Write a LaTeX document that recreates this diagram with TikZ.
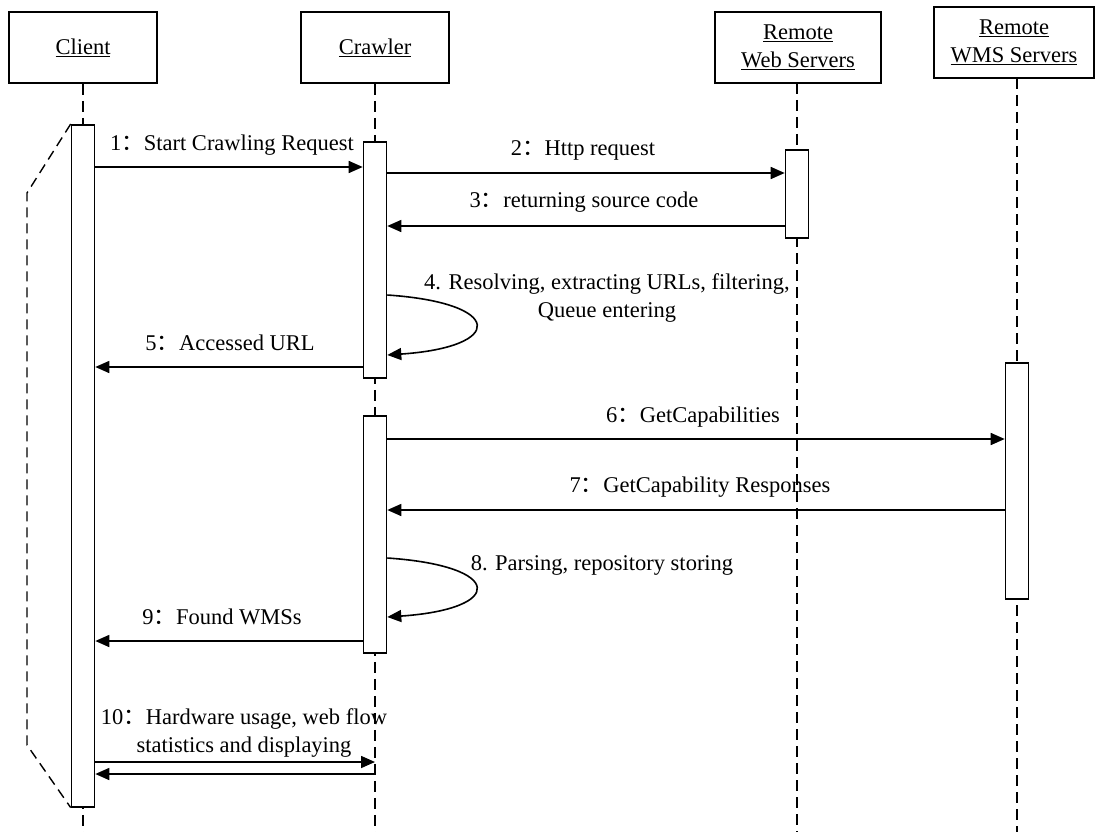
\documentclass[tikz,border=0pt]{standalone}
\usepackage{fontspec}
\setmainfont{Liberation Serif}
\newfontfamily\cjk{Noto Sans CJK SC}
\newcommand\fwcolon{{\cjk ：}}
\usetikzlibrary{arrows.meta}
\begin{document}
\begin{tikzpicture}[x=1pt,y=-1pt,
  every node/.style={font=\fontsize{22.5}{28}\selectfont},
  actor/.style={draw,line width=1.6pt,minimum height=71pt,inner sep=0pt,align=center},
  bar/.style={draw,line width=1.6pt,fill=white,minimum width=23pt,inner sep=0pt,anchor=north},
  lifeline/.style={line width=1.4pt,dash pattern=on 11pt off 6pt},
  msg/.style={line width=1.6pt,-{Triangle[length=14pt,width=12pt]}},
  lbl/.style={inner sep=0pt,align=center}]
\useasboundingbox (0,0) rectangle (1095,832);

% participants
\node[actor,minimum width=148pt] (client)  at (83,47.5)  {\underline{Client}};
\node[actor,minimum width=148pt] (crawler) at (375,47.5) {\underline{Crawler}};
\node[actor,minimum width=166pt] (web)     at (798,47.5) {\underline{Remote}\\\underline{Web Servers}};
\node[actor,minimum width=160pt] (wms)     at (1014,42.5) {\underline{Remote}\\\underline{WMS Servers}};

% lifelines
\draw[lifeline] (client.south)  -- (client.south |- 0,832);
\draw[lifeline] (crawler.south) -- (crawler.south |- 0,832);
\draw[lifeline] (797,83)        -- (797,832);
\draw[lifeline] (1017,78)       -- (1017,832);

% activation bars
\node[bar,minimum height=682pt] (cbar)  at (83,124)   {};
\node[bar,minimum height=236pt] (kbarA) at (375,141)  {};
\node[bar,minimum height=237pt] (kbarB) at (375,415)  {};
\node[bar,minimum height=88pt]  (wbar)  at (797,149)  {};
\node[bar,minimum height=236pt] (mbar)  at (1017,362) {};

% dashed bracket beside the client bar
\coordinate (brA) at (27,193);
\coordinate (brB) at (27,745);
\draw[lifeline,dash pattern=on 10pt off 6pt] (cbar.north west) -- (brA) -- (brB) -- (cbar.south west);

% messages
\draw[msg] (cbar.east |- 0,167)  -- (kbarA.west |- 0,167);
\node[lbl] (l1) at (232,145) {1\fwcolon Start Crawling Request};

\draw[msg] (kbarA.east |- 0,173) -- (wbar.west |- 0,173);
\node[lbl] (l2) at (583,150) {2\fwcolon Http request};

\draw[msg] (wbar.west |- 0,226)  -- (kbarA.east |- 0,226);
\node[lbl] (l3) at (584,202) {3\fwcolon returning source code};

\draw[msg] (kbarA.east |- 0,295) .. controls (505,303) and (505,347) .. (kbarA.east |- 0,355);
\node[lbl] (l4) at (607,298) {4. Resolving, extracting URLs, filtering,\\Queue entering};

\draw[msg] (kbarA.west |- 0,367) -- (cbar.east |- 0,367);
\node[lbl] (l5) at (230,343) {5\fwcolon Accessed URL};

\draw[msg] (kbarB.east |- 0,439) -- (mbar.west |- 0,439);
\node[lbl] (l6) at (693,417) {6\fwcolon GetCapabilities};

\draw[msg] (mbar.west |- 0,510)  -- (kbarB.east |- 0,510);
\node[lbl] (l7) at (700,487) {7\fwcolon GetCapability Responses};

\draw[msg] (kbarB.east |- 0,558) .. controls (505,566) and (505,609) .. (kbarB.east |- 0,617);
\node[lbl] (l8) at (602,565) {8. Parsing, repository storing};

\draw[msg] (kbarB.west |- 0,641) -- (cbar.east |- 0,641);
\node[lbl] (l9) at (222,617) {9\fwcolon Found WMSs};

\coordinate (tenA) at (crawler.south |- 0,762);
\coordinate (tenB) at (crawler.south |- 0,774);
\draw[msg] (cbar.east |- 0,762) -- (tenA);
\draw[msg] (tenB) -- (cbar.east |- 0,774);
\node[lbl] (l10) at (244,733) {10\fwcolon Hardware usage, web flow\\statistics and displaying};
\end{tikzpicture}
\end{document}
